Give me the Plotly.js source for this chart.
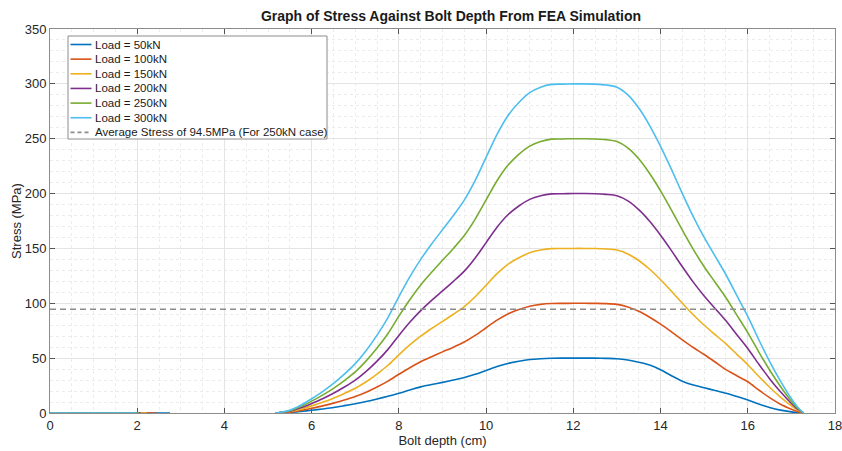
<!DOCTYPE html>
<html>
<head>
<meta charset="utf-8">
<script src="https://cdn.plot.ly/plotly-3.0.1.min.js"></script>
<style>
  html, body { margin: 0; padding: 0; background: #fff; }
  #chart { width: 842px; height: 451px; }
</style>
</head>
<body>
<div id="chart"></div>
<script>
// ---------------- data ----------------
const seriesNames = ["Load = 50kN", "Load = 100kN", "Load = 150kN", "Load = 200kN", "Load = 250kN", "Load = 300kN"];
const avgName = "Average Stress of 94.5MPa (For 250kN case)";
const avgStress = 94.5;

// flat zero segment at the start of each series (x from 0 to this end)
const flatEnd = [2.75, 2.44, 2.22, 2.08, 2.04, 1.99];

// bolt depth (cm) for the loaded section
const depth = [5.16, 5.25, 5.5, 5.75, 6.0, 6.25, 6.5, 6.75, 7.0, 7.25, 7.5, 7.75, 8.0, 8.25, 8.5, 8.75,
  9.0, 9.25, 9.5, 9.75, 10.0, 10.25, 10.5, 10.75, 11.0, 11.25, 11.5, 11.75, 12.0, 12.25, 12.5, 12.75,
  13.0, 13.25, 13.5, 13.75, 14.0, 14.25, 14.5, 14.75, 15.0, 15.25, 15.5, 15.75, 16.0, 16.25, 16.5, 16.75,
  17.0, 17.15, 17.28];

const stress50 = [0, 0.1, 0.5, 1.4, 2.5, 3.7, 5, 6.7, 8.5, 10.5, 12.8, 15.3, 18, 21, 23.8, 25.9,
  27.9, 30, 32.3, 35.3, 38.8, 42.3, 45.2, 47.2, 48.7, 49.5, 49.9, 50, 50, 50, 50, 49.8,
  49.5, 48.3, 46.3, 43.7, 39.5, 34, 29, 25.5, 23, 20.5, 18, 15, 11.8, 8.2, 5, 2.6,
  1, 0.3, 0];
const stress100 = [0, 0.1, 0.8, 2.3, 4.3, 6.5, 9, 11.8, 15, 19, 23.7, 29, 35.3, 41.3, 46.7, 51.3,
  55.7, 60, 64.7, 70.7, 77.7, 84.7, 90.3, 94.3, 97.3, 99, 99.8, 99.9, 100, 100, 99.9, 99.7,
  99, 96.7, 92.7, 87.3, 81, 74, 66.7, 59.7, 53.3, 46.5, 39.5, 34, 28.5, 21, 14, 8,
  3.5, 1.2, 0];
const stress150 = [0, 0.2, 1.3, 3.5, 6.5, 9.8, 13.5, 17.8, 22.5, 28.5, 35.5, 43.5, 53, 62, 70, 77,
  83.5, 90, 97, 106, 116.5, 127, 135.5, 141.5, 146, 148.5, 149.8, 149.9, 150, 150, 149.9, 149.5,
  148.5, 145, 139, 131, 121.5, 111, 100, 89.5, 80, 71.5, 63, 53.5, 44, 33.5, 23.5, 14.5,
  6.5, 2.5, 0];
const stress200 = [0, 0.3, 1.7, 4.7, 8.7, 13, 18, 23.7, 30, 38, 47.3, 58, 70.7, 82.7, 93.3, 102.7,
  111.3, 120, 129.3, 141.3, 155.3, 169.3, 180.7, 188.7, 194.7, 198, 199.7, 199.9, 200, 200, 199.9, 199.3,
  198, 193.3, 185.3, 174.7, 162, 148, 133.3, 119.3, 106.7, 95.3, 84, 71.3, 58.7, 44.7, 31.3, 19.3,
  8.7, 3.3, 0];
const stress250 = [0, 0.3, 2.1, 5.8, 10.8, 16.3, 22.5, 29.6, 37.5, 47.5, 59.2, 72.5, 88.3, 103.3, 116.7, 128.3,
  139.2, 150, 161.7, 176.7, 194.2, 211.7, 225.8, 235.8, 243.3, 247.5, 249.6, 249.8, 250, 250, 249.8, 249.2,
  247.5, 241.7, 231.7, 218.3, 202.5, 185, 166.7, 149.2, 133.3, 119.2, 105, 89.2, 73.3, 55.8, 39.2, 24.2,
  10.8, 4.2, 0];
const stress300 = [0, 0.4, 2.5, 7, 13, 19.5, 27, 35.5, 45, 57, 71, 87, 106, 124, 140, 154,
  167, 180, 194, 212, 233, 254, 271, 283, 292, 297, 299.5, 299.8, 300, 300, 299.8, 299,
  297, 290, 278, 262, 243, 222, 200, 179, 160, 143, 126, 107, 88, 67, 47, 29,
  13, 5, 0];

const allStress = [stress50, stress100, stress150, stress200, stress250, stress300];
const xTicks = [0, 2, 4, 6, 8, 10, 12, 14, 16, 18];
const yTicks = [0, 50, 100, 150, 200, 250, 300, 350];

// ---------------- styling ----------------
const colors = ["#0072BD", "#D95319", "#EDB120", "#7E2F8E", "#77AC30", "#4DBEEE"];
const avgColor = "#8c8c8c";
const FONT = "Liberation Sans, Arial, Helvetica, sans-serif";

const traces = allStress.map((ys, i) => ({
  type: "scatter",
  mode: "lines",
  name: seriesNames[i],
  x: [0, flatEnd[i], null].concat(depth),
  y: [0, 0, null].concat(ys),
  connectgaps: false,
  line: { color: colors[i], width: 1.6, shape: "spline", smoothing: 0.8 },
  showlegend: false,
  hoverinfo: "skip"
}));

traces.push({
  type: "scatter",
  mode: "lines",
  name: avgName,
  x: [xTicks[0], xTicks[xTicks.length - 1]],
  y: [avgStress, avgStress],
  line: { color: avgColor, width: 1.6, dash: "6px,4px" },
  showlegend: false,
  hoverinfo: "skip"
});

// ----- custom legend (MATLAB-style compact box) -----
const M = { l: 50, r: 7, t: 29, b: 38 };
const W = 842, H = 451;
const pw = W - M.l - M.r, ph = H - M.t - M.b;
const px2x = p => (p - M.l) / pw;
const py2y = p => (H - M.b - p) / ph;

const legBox = { x0: 68, x1: 327, y0: 36, y1: 139 };
const rowY0 = 44.5, rowStep = 14.65;
const sampleX0 = 70.5, sampleX1 = 91.5, textX = 92.5;

const shapes = [{
  type: "rect", xref: "paper", yref: "paper", layer: "above",
  x0: px2x(legBox.x0), x1: px2x(legBox.x1), y0: py2y(legBox.y1), y1: py2y(legBox.y0),
  fillcolor: "#ffffff", line: { color: "#8c8c8c", width: 1 }
}];
const annotations = [];
const legNames = seriesNames.concat([avgName]);
const legColors = colors.concat([avgColor]);
legNames.forEach((nm, i) => {
  const yy = py2y(rowY0 + i * rowStep);
  shapes.push({
    type: "line", xref: "paper", yref: "paper", layer: "above",
    x0: px2x(sampleX0), x1: px2x(sampleX1), y0: yy, y1: yy,
    line: { color: legColors[i], width: 1.6, dash: i === legNames.length - 1 ? "4px,3px" : "solid" }
  });
  annotations.push({
    xref: "paper", yref: "paper", x: px2x(textX), y: yy,
    xanchor: "left", yanchor: "middle", showarrow: false,
    text: nm, font: { family: FONT, size: 11.5, color: "#1a1a1a" }
  });
});

const axisCommon = {
  showline: true, linecolor: "#8c8c8c", linewidth: 1,
  mirror: "ticks", ticks: "inside", ticklen: 5, tickcolor: "#555555", tickwidth: 1,
  showgrid: true, gridcolor: "#e4e4e4", gridwidth: 1,
  zeroline: false, layer: "below traces",
  tickfont: { family: FONT, size: 13, color: "#262626" },
  ticklabeloverflow: "allow",
  fixedrange: true
};

const layout = {
  width: W, height: H,
  margin: M,
  paper_bgcolor: "#ffffff", plot_bgcolor: "#ffffff",
  showlegend: false,
  title: {
    text: "<b>Graph of Stress Against Bolt Depth From FEA Simulation</b>",
    font: { family: FONT, size: 14, color: "#1a1a1a" },
    x: 451 / W, xref: "container", xanchor: "center",
    y: 1 - 16 / H, yref: "container", yanchor: "middle"
  },
  xaxis: Object.assign({}, axisCommon, {
    range: [xTicks[0], xTicks[xTicks.length - 1]],
    tickmode: "array", tickvals: xTicks, ticktext: xTicks.map(String),
    minor: { dtick: 0.5, showgrid: true, gridcolor: "#ececec", griddash: "dot", gridwidth: 1, ticks: "" },
    title: { text: "Bolt depth (cm)", font: { family: FONT, size: 13, color: "#262626" }, standoff: 3 }
  }),
  yaxis: Object.assign({}, axisCommon, {
    range: [yTicks[0], yTicks[yTicks.length - 1]],
    tickmode: "array", tickvals: yTicks, ticktext: yTicks.map(String),
    minor: { dtick: 10, showgrid: true, gridcolor: "#ececec", griddash: "dot", gridwidth: 1, ticks: "" },
    title: { text: "Stress (MPa)", font: { family: FONT, size: 13, color: "#262626" }, standoff: 0 }
  }),
  shapes: shapes,
  annotations: annotations
};

Plotly.newPlot("chart", traces, layout, { staticPlot: true, displayModeBar: false });
</script>
</body>
</html>
